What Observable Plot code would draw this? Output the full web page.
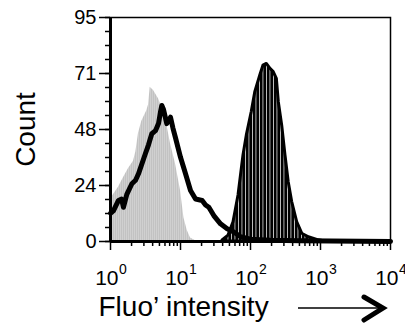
<!DOCTYPE html>
<html>
<head>
<meta charset="utf-8">
<script src="https://cdn.jsdelivr.net/npm/d3@7"></script>
<script src="https://cdn.jsdelivr.net/npm/@observablehq/plot@0.6"></script>
<style>
  html, body { margin: 0; padding: 0; background: #fff; }
  #chart { width: 405px; height: 328px; overflow: hidden; }
</style>
</head>
<body>
<div id="chart"></div>
<script>
// ---- Data (intensity, count) ----
// Grey filled histogram (control)
const grayX = [1, 1.05, 1.30, 1.53, 1.81, 2.13, 2.30, 2.51, 2.80, 3.30, 3.50, 3.69, 4.12, 4.85, 5.72, 6.52, 7.20, 8.48, 10.0, 11.2, 12.5, 13.9, 16.4, 19.3];
const grayY = [18.8, 19, 23, 27, 31, 34, 38, 45.8, 51, 55.5, 58, 65.4, 64, 60.5, 55, 48, 41.5, 33, 21.6, 10, 4.7, 1.5, 0.3, 0];

// Black open (outline) histogram
const outlineX = [1, 1.10, 1.30, 1.44, 1.53, 1.71, 2.02, 2.28, 2.51, 3.13, 3.49, 3.89, 4.39, 4.85, 5.18, 5.41, 5.72, 6.37, 7.20, 7.81, 8.48, 10.0, 11.8, 13.9, 16.4, 20.4, 22.8, 25.4, 29.9, 37.3, 46.4, 57.7, 72, 100, 193, 518, 10000];
const outlineY = [12, 13, 17.4, 18, 14.5, 20, 24.5, 26, 28.7, 37, 41, 45.7, 47, 50, 55, 57.7, 56, 50, 52.7, 48, 44, 35.7, 28.7, 21.6, 18, 17.4, 15.5, 14.5, 11, 7.5, 5.4, 4, 2, 1, 0.5, 0.3, 0];

// Black filled histogram
const blackX = [39.8, 48.5, 57.2, 67.4, 79.4, 88.6, 104, 117, 138, 153, 171, 193, 213, 238, 254, 284, 316, 352, 394, 464, 548, 681, 945, 1180];
const blackY = [0.5, 2.5, 8.2, 19.5, 36.5, 45, 54.8, 63.3, 70.4, 74.6, 75.3, 73.2, 72, 69, 59, 49, 36.5, 25, 16.7, 8.2, 3.3, 1.8, 0.5, 0];

// Axis ticks and labels
const xMajor = [1, 10, 100, 1000, 10000];
const xExp = ["0", "1", "2", "3", "4"];
const yMajor = [0, 23.75, 47.5, 71.25, 95];
const yLabels = ["0", "24", "48", "71", "95"];
const yTitle = "Count";
const xTitle = "Fluo\u2019 intensity";

// Minor tick positions
const xMinor = [];
for (let k = 0; k < 4; k++) for (let m = 2; m <= 9; m++) xMinor.push(m * Math.pow(10, k));
const yMinor = d3.range(17).map(i => i * 95 / 16);

const gray = grayX.map((x, i) => ({x, y: grayY[i]}));
const outline = outlineX.map((x, i) => ({x, y: outlineY[i]}));
const black = blackX.map((x, i) => ({x, y: blackY[i]}));

const font = "'Liberation Sans', Arial, Helvetica, sans-serif";

const svg = Plot.plot({
  width: 405,
  height: 328,
  marginLeft: 110,
  marginRight: 15,
  marginTop: 17,
  marginBottom: 87,
  style: {fontFamily: font, background: "#fff", color: "#000", overflow: "visible"},
  x: {type: "log", domain: [1, 10000]},
  y: {domain: [0, 95]},
  marks: [
    Plot.areaY(gray, {x: "x", y: "y", fill: "url(#hatchGray)"}),
    Plot.areaY(black, {x: "x", y: "y", fill: "url(#hatchBlack)", stroke: "#000", strokeWidth: 3, strokeLinejoin: "round"}),
    Plot.line(outline, {x: "x", y: "y", stroke: "#000", strokeWidth: 5, strokeLinejoin: "round"}),
    Plot.frame({stroke: "#000", strokeWidth: 1.5}),
    Plot.ruleY([0], {stroke: "#000", strokeWidth: 3}),
    Plot.ruleX([1], {stroke: "#000", strokeWidth: 3}),
    Plot.axisX(xMajor, {tickSize: 9, strokeWidth: 1.5, tickFormat: () => "", label: null}),
    Plot.axisX(xMinor, {tickSize: 5, strokeWidth: 1.5, tickFormat: () => "", label: null}),
    Plot.axisY(yMajor, {tickSize: 11, strokeWidth: 1.5, tickFormat: () => "", label: null}),
    Plot.axisY(yMinor, {tickSize: 5, strokeWidth: 1.5, tickFormat: () => "", label: null}),
    Plot.text(yMajor, {y: d => d, frameAnchor: "left", text: (d, i) => yLabels[i], textAnchor: "end", lineAnchor: "middle", dx: -14, fontSize: 20, fill: "#000"}),
    Plot.text(xMajor, {x: d => d, frameAnchor: "bottom", text: () => "10", textAnchor: "end", lineAnchor: "bottom", dx: 8, dy: 43, fontSize: 21, fill: "#000"}),
    Plot.text(xMajor, {x: d => d, frameAnchor: "bottom", text: (d, i) => xExp[i], textAnchor: "start", lineAnchor: "bottom", dx: 8.5, dy: 32, fontSize: 14, fill: "#000"}),
    Plot.text([yTitle], {frameAnchor: "left", text: d => d, rotate: -90, textAnchor: "middle", lineAnchor: "bottom", dx: -76, fontSize: 28, fill: "#000"}),
    Plot.text([xTitle], {frameAnchor: "bottom-left", text: d => d, textAnchor: "start", lineAnchor: "bottom", dx: -12, dy: 74, fontSize: 28, fill: "#000"})
  ]
});

// Hatch patterns (vertical bin lines seen in the filled histograms)
const defs = d3.select(svg).insert("defs", ":first-child");
const pb = defs.append("pattern").attr("id", "hatchBlack").attr("patternUnits", "userSpaceOnUse")
  .attr("width", 3.5).attr("height", 10);
pb.append("rect").attr("width", 3.5).attr("height", 10).attr("fill", "#000");
pb.append("rect").attr("x", 0).attr("width", 0.7).attr("height", 10).attr("fill", "#fff");
const pg = defs.append("pattern").attr("id", "hatchGray").attr("patternUnits", "userSpaceOnUse")
  .attr("width", 2).attr("height", 10);
pg.append("rect").attr("width", 2).attr("height", 10).attr("fill", "#c2c2c2");
pg.append("rect").attr("x", 0).attr("width", 0.8).attr("height", 10).attr("fill", "#d4d4d4");

// Arrow after the x-axis title
const g = d3.select(svg).append("g").attr("stroke", "#000").attr("fill", "none");
g.append("line").attr("x1", 298).attr("y1", 308).attr("x2", 382).attr("y2", 308).attr("stroke-width", 1.6);
g.append("polyline").attr("points", "364,297 383,308 364,320").attr("stroke-width", 5)
  .attr("stroke-linecap", "round").attr("stroke-linejoin", "miter");

document.getElementById("chart").appendChild(svg);
</script>
</body>
</html>
